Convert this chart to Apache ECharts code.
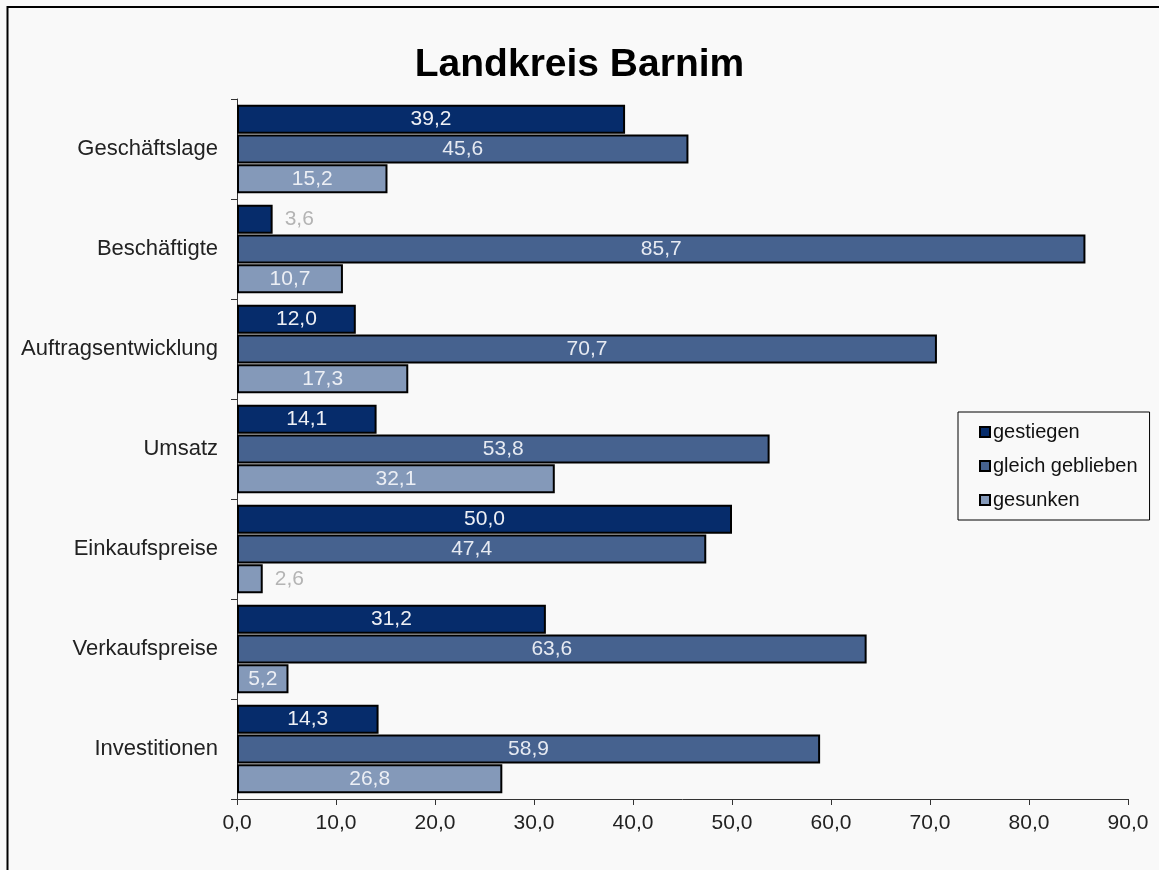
<!DOCTYPE html>
<html>
<head>
<meta charset="utf-8">
<script src="https://cdn.jsdelivr.net/npm/echarts@6/dist/echarts.min.js"></script>
<style>
html,body{margin:0;padding:0;background:#f9f9f9;}
#chart{width:1159px;height:870px;}
</style>
</head>
<body>
<div id="chart"></div>
<script>
const categories = ['Geschäftslage','Beschäftigte','Auftragsentwicklung','Umsatz','Einkaufspreise','Verkaufspreise','Investitionen'];
const seriesNames = ['gestiegen','gleich geblieben','gesunken'];
const gestiegen = [39.2, 3.6, 12.0, 14.1, 50.0, 31.2, 14.3];
const gleichGeblieben = [45.6, 85.7, 70.7, 53.8, 47.4, 63.6, 58.9];
const gesunken = [15.2, 10.7, 17.3, 32.1, 2.6, 5.2, 26.8];
const xTicks = [0,10,20,30,40,50,60,70,80,90];

const colors = ['#062c6b', '#46628f', '#8499b9'];
const labelColors = ['#eef0f5', '#e6eaf2', '#eceff5'];
const fmt = v => v.toFixed(1).replace('.', ',');
const FONT = '"Liberation Sans", Arial, sans-serif';

function mkSeries(name, values, idx) {
  return {
    name: name,
    type: 'bar',
    barWidth: 29,
    barGap: '3%',
    data: values.map(v => {
      const item = { value: v };
      if (v < 4) {
        item.label = { position: 'right', distance: 12, color: '#b4b4b4' };
      }
      return item;
    }),
    itemStyle: { color: colors[idx], borderColor: '#000', borderWidth: 2 },
    label: {
      show: true,
      position: 'inside',
      color: labelColors[idx],
      fontFamily: FONT,
      fontSize: 21,
      formatter: p => fmt(p.value)
    }
  };
}

const chart = echarts.init(document.getElementById('chart'));
chart.setOption({
  backgroundColor: '#f9f9f9',
  animation: false,
  title: {
    text: 'Landkreis Barnim',
    left: 'center',
    top: 41,
    textStyle: { fontFamily: FONT, fontSize: 39, fontWeight: 'bold', color: '#000' }
  },
  legend: {
    orient: 'vertical',
    left: 958,
    top: 412,
    padding: [10, 12, 10, 21],
    itemGap: 14,
    itemWidth: 10,
    itemHeight: 10,
    icon: 'rect',
    borderColor: '#000',
    borderWidth: 1,
    data: seriesNames,
    textStyle: { fontFamily: FONT, fontSize: 20, color: '#111', padding: [0, 0, 0, -2] }
  },
  grid: { left: 237, right: 31, top: 99, bottom: 71, containLabel: false },
  xAxis: {
    type: 'value',
    min: xTicks[0],
    max: xTicks[xTicks.length - 1],
    interval: 10,
    splitLine: { show: false },
    axisLine: { show: true, lineStyle: { color: '#333', width: 1 } },
    axisTick: { show: true, length: 6, lineStyle: { color: '#333' } },
    axisLabel: { fontFamily: FONT, fontSize: 21, color: '#222', margin: 14, formatter: v => fmt(v) }
  },
  yAxis: {
    type: 'category',
    inverse: true,
    data: categories,
    axisLine: { show: true, lineStyle: { color: '#333', width: 1 } },
    axisTick: { show: true, length: 6, lineStyle: { color: '#333' } },
    axisLabel: { fontFamily: FONT, fontSize: 22, color: '#222', margin: 19 }
  },
  series: [
    mkSeries(seriesNames[0], gestiegen, 0),
    mkSeries(seriesNames[1], gleichGeblieben, 1),
    mkSeries(seriesNames[2], gesunken, 2)
  ],
  graphic: [{
    type: 'rect',
    silent: true,
    shape: { x: 7.5, y: 7, width: 1200, height: 900 },
    style: { fill: 'none', stroke: '#000', lineWidth: 2 }
  }]
});
</script>
</body>
</html>
